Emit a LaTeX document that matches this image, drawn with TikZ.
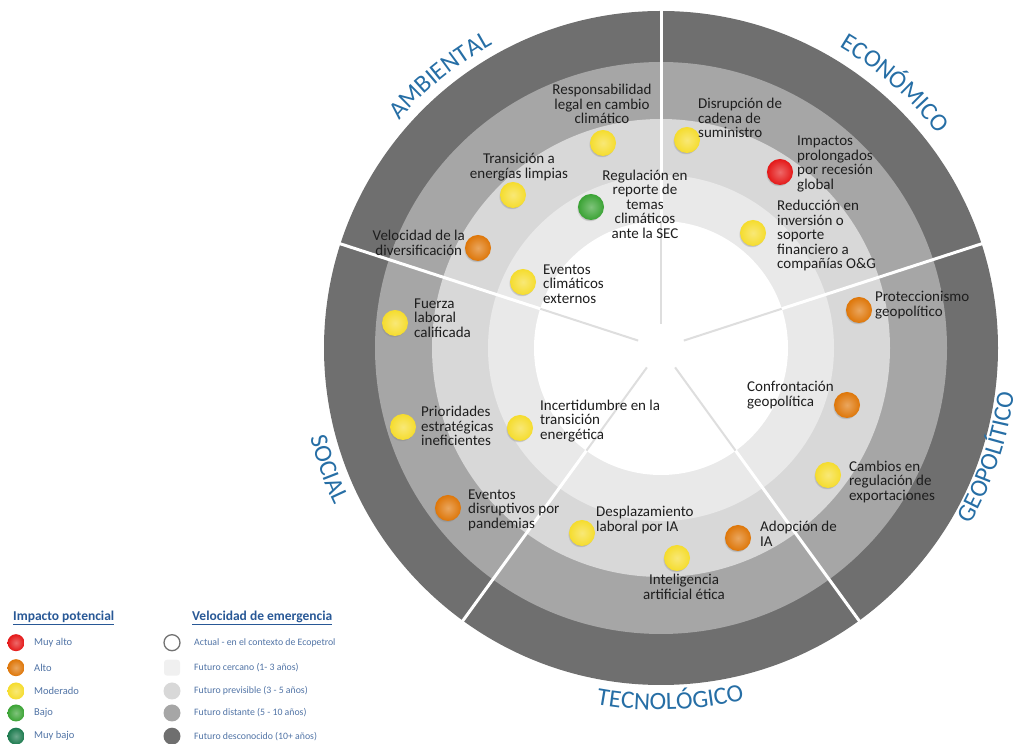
\documentclass[tikz,border=0pt]{standalone}
\usepackage{fontspec}
\setmainfont{Carlito}
\usetikzlibrary{decorations.text,shadows}
\definecolor{ringA}{RGB}{111,111,111}
\definecolor{ringB}{RGB}{166,166,166}
\definecolor{ringC}{RGB}{216,216,216}
\definecolor{ringD}{RGB}{233,233,233}
\definecolor{catblue}{RGB}{38,110,165}
\definecolor{titleblue}{RGB}{40,88,150}
\definecolor{legblue}{RGB}{80,115,165}
\definecolor{txtc}{RGB}{30,30,30}
\definecolor{ylw}{RGB}{245,220,45}
\definecolor{org}{RGB}{222,118,8}
\definecolor{rd}{RGB}{228,24,24}
\definecolor{grn}{RGB}{58,163,52}
\definecolor{dgrn}{RGB}{28,122,78}
\newcommand\catfont{\fontsize{25}{25}\selectfont\color{catblue}}
\newcommand\itfont{\fontsize{15}{14.5}\selectfont}
\begin{document}
\begin{tikzpicture}[x=1pt,y=1pt,
  itxt/.style={font=\itfont, text=txtc, inner sep=0pt, align=left},
  dot/.style={circle, minimum size=26pt, inner sep=0pt, inner color=#1!65!white, outer color=#1,
    circular drop shadow={shadow xshift=-1.2pt, shadow yshift=-1.2pt, shadow scale=1.02, opacity=.45}},
  ldot/.style={circle, minimum size=17pt, inner sep=0pt, inner color=#1!65!white, outer color=#1},
  lmark/.style={circle, minimum size=17pt, inner sep=0pt, fill=#1},
  legtitle/.style={font=\fontsize{13.5}{14}\selectfont\bfseries, text=titleblue, inner sep=0pt},
  legtxtA/.style={font=\fontsize{10.5}{12}\selectfont, text=legblue, inner sep=0pt, anchor=west},
  legtxtB/.style={font=\fontsize{9.8}{12}\selectfont, text=legblue, inner sep=0pt, anchor=west},
  spokein/.style={draw=black!13, line width=2pt},
  spokeout/.style={draw=white, line width=3pt},
  cat/.style={decorate, decoration={text along path, text align=center, text={#1}}}
]
\useasboundingbox (0,0) rectangle (1021,744);
\coordinate (C) at (661,396);
% rings
\fill[ringA] (C) circle[radius=337];
\fill[ringB] (C) circle[radius=286];
\fill[ringC] (C) circle[radius=229];
\fill[ringD] (C) circle[radius=173];
\fill[white] (C) circle[radius=127];
% spokes
\foreach \a in {90,18,-54,-126,162} {
  \draw[spokein] (C) ++(\a:24) -- ++(\a:103);
  \draw[spokeout] (C) ++(\a:127) -- ++(\a:211);
}
% category labels
\path[cat={|\catfont|AMBIENTAL}] ([shift={(154:347)}]C) arc[start angle=154, end angle=104, radius=347];
\path[cat={|\catfont|ECONÓMICO}] ([shift={(74:350)}]C) arc[start angle=74, end angle=23, radius=350];
\path[cat={|\catfont|GEOPOLÍTICO}] ([shift={(-46:356)}]C) arc[start angle=-46, end angle=9, radius=356];
\path[cat={|\catfont|TECNOLÓGICO}] ([shift={(-116:362)}]C) arc[start angle=-116, end angle=-61, radius=362];
\path[cat={|\catfont|SOCIAL}] ([shift={(174:362)}]C) arc[start angle=174, end angle=226, radius=362];
% items
\node[dot=ylw] (d1) at (603,601) {};
\node[itxt, align=center] (t1) at (602,640) {Responsabilidad\\legal en cambio\\climático};
\node[dot=ylw] (d2) at (513,549) {};
\node[itxt, align=center] (t2) at (519,577) {Transición a\\energías limpias};
\node[dot=grn] (d3) at (591,537) {};
\node[itxt, align=center] (t3) at (645,540) {Regulación en\\reporte de\\temas\\climáticos\\ante la SEC};
\node[dot=org] (d4) at (478,496) {};
\node[itxt, align=center, anchor=east] (t4) at (465,501) {Velocidad de la\\diversificación};
\node[dot=ylw] (d5) at (523,462) {};
\node[itxt, anchor=west] (t5) at (543,460) {Eventos\\climáticos\\externos};
\node[dot=ylw] (d6) at (395,421) {};
\node[itxt, anchor=west] (t6) at (414,426) {Fuerza\\laboral\\calificada};
\node[dot=ylw] (d7) at (687,604) {};
\node[itxt, anchor=west] (t7) at (698,626) {Disrupción de\\cadena de\\suministro};
\node[dot=rd] (d8) at (780,572) {};
\node[itxt, anchor=west] (t8) at (797,580) {Impactos\\prolongados\\por recesión\\global};
\node[dot=ylw] (d9) at (753,511) {};
\node[itxt, anchor=west] (t9) at (777,508) {Reducción en\\inversión o\\soporte\\financiero a\\compañías O\&G};
\node[dot=org] (d10) at (859,434) {};
\node[itxt, anchor=west] (t10) at (875,439) {Proteccionismo\\geopolítico};
\node[dot=org] (d11) at (847,339) {};
\node[itxt, anchor=west] (t11) at (747,349) {Confrontación\\geopolítica};
\node[dot=ylw] (d12) at (828,269) {};
\node[itxt, anchor=west] (t12) at (849,262) {Cambios en\\regulación de\\exportaciones};
\node[dot=org] (d13) at (738,206) {};
\node[itxt, anchor=west] (t13) at (760,210) {Adopción de\\IA};
\node[dot=ylw] (d14) at (677,186) {};
\node[itxt, align=center] (t14) at (684,157) {Inteligencia\\artificial ética};
\node[dot=ylw] (d15) at (582,211) {};
\node[itxt, anchor=west] (t15) at (596,224) {Desplazamiento\\laboral por IA};
\node[dot=ylw] (d16) at (520,316) {};
\node[itxt, anchor=west] (t16) at (540,323) {Incertidumbre en la\\transición\\energética};
\node[dot=ylw] (d17) at (403,317) {};
\node[itxt, anchor=west] (t17) at (421,318) {Prioridades\\estratégicas\\ineficientes};
\node[dot=org] (d18) at (448,236) {};
\node[itxt, anchor=west] (t18) at (468,234) {Eventos\\disruptivos por\\pandemias};
% legend: impacto
\node[legtitle, anchor=west] (lt1) at (13,126) {\underline{Impacto potencial}};
\node[ldot=rd] (la1) at (16,101.3) {};
\node[legtxtA] (lx1) at (34,101.3) {Muy alto};
\node[ldot=org] (la2) at (16,76.3) {};
\node[legtxtA] (lx2) at (34,76.3) {Alto};
\node[ldot=ylw] (la3) at (16,53) {};
\node[legtxtA] (lx3) at (34,53) {Moderado};
\node[ldot=grn] (la4) at (16,31) {};
\node[legtxtA] (lx4) at (34,31) {Bajo};
\node[ldot=dgrn] (la5) at (16,7.8) {};
\node[legtxtA] (lx5) at (34,7.8) {Muy bajo};
% legend: velocidad
\node[legtitle, anchor=west] (lt2) at (192,126) {\underline{Velocidad de emergencia}};
\node[circle, minimum size=16pt, inner sep=0pt, draw=black!55, line width=1.3pt, fill=white] (lb1) at (172,101.3) {};
\node[legtxtB] (ly1) at (194,101.3) {Actual - en el contexto de Ecopetrol};
\node[rounded corners=3pt, minimum size=16pt, inner sep=0pt, fill=black!6] (lb2) at (172,76.3) {};
\node[legtxtB] (ly2) at (194,76.3) {Futuro cercano (1- 3 años)};
\node[lmark=ringC] (lb3) at (172,53) {};
\node[legtxtB] (ly3) at (194,53) {Futuro previsible (3 - 5 años)};
\node[lmark=ringB] (lb4) at (172,31) {};
\node[legtxtB] (ly4) at (194,31) {Futuro distante (5 - 10 años)};
\node[lmark=ringA] (lb5) at (172,7.8) {};
\node[legtxtB] (ly5) at (194,7.8) {Futuro desconocido (10+ años)};
\end{tikzpicture}
\end{document}
